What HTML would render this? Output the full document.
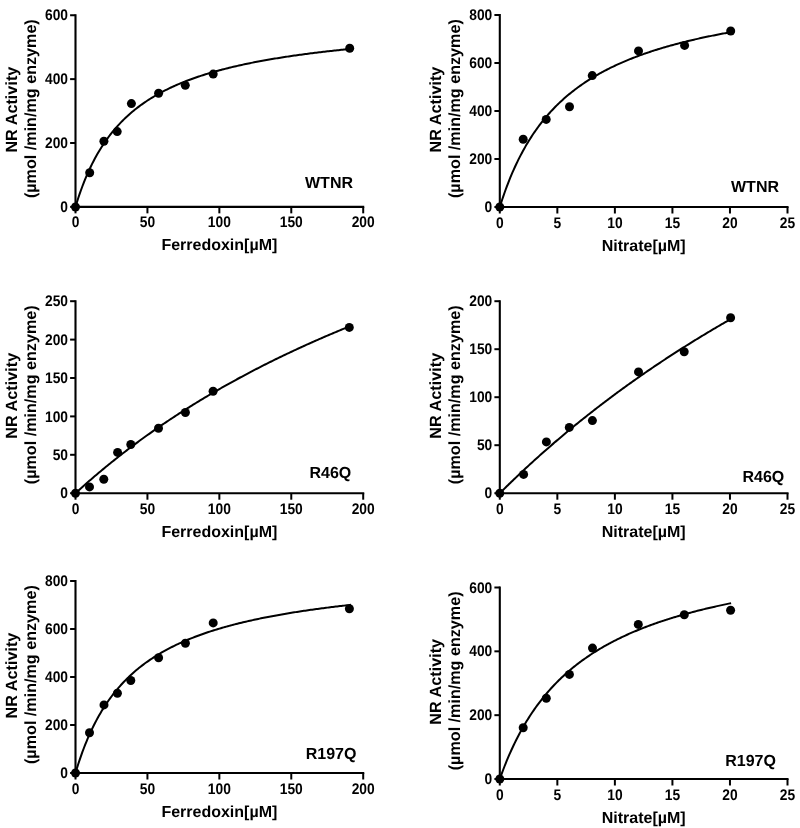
<!DOCTYPE html>
<html><head><meta charset="utf-8"><style>
html,body{margin:0;padding:0;background:#fff;}
svg{display:block;filter:blur(0.35px);}
.ax{fill:none;stroke:#000;stroke-width:2.1;stroke-linecap:square;}
.tick{fill:none;stroke:#000;stroke-width:2;}
.cv{fill:none;stroke:#000;stroke-width:2;stroke-linejoin:round;}
text{font-family:"Liberation Sans", sans-serif;font-weight:bold;fill:#000;text-rendering:geometricPrecision;}
.tk{font-size:13.8px;}
.lb{font-size:16px;}
</style></head><body>
<svg width="800" height="828" viewBox="0 0 800 828">
<path d="M75.50 15.25V206.85H363.20" class="ax"/>
<path d="M70.10 206.85H75.50" class="tick"/>
<text transform="translate(68.00 211.95) scale(1 1.12)" class="tk" text-anchor="end">0</text>
<path d="M70.10 142.98H75.50" class="tick"/>
<text transform="translate(68.00 148.08) scale(1 1.12)" class="tk" text-anchor="end">200</text>
<path d="M70.10 79.12H75.50" class="tick"/>
<text transform="translate(68.00 84.22) scale(1 1.12)" class="tk" text-anchor="end">400</text>
<path d="M70.10 15.25H75.50" class="tick"/>
<text transform="translate(68.00 20.35) scale(1 1.12)" class="tk" text-anchor="end">600</text>
<path d="M75.50 206.85V213.35" class="tick"/>
<text transform="translate(75.50 227.35) scale(1 1.12)" class="tk" text-anchor="middle">0</text>
<path d="M147.43 206.85V213.35" class="tick"/>
<text transform="translate(147.43 227.35) scale(1 1.12)" class="tk" text-anchor="middle">50</text>
<path d="M219.35 206.85V213.35" class="tick"/>
<text transform="translate(219.35 227.35) scale(1 1.12)" class="tk" text-anchor="middle">100</text>
<path d="M291.27 206.85V213.35" class="tick"/>
<text transform="translate(291.27 227.35) scale(1 1.12)" class="tk" text-anchor="middle">150</text>
<path d="M363.20 206.85V213.35" class="tick"/>
<text transform="translate(363.20 227.35) scale(1 1.12)" class="tk" text-anchor="middle">200</text>
<path d="M75.50 206.85 L76.88 202.34 L78.27 198.04 L79.65 193.94 L81.04 190.01 L82.42 186.26 L83.81 182.66 L85.19 179.21 L86.57 175.91 L87.96 172.73 L89.34 169.68 L90.73 166.74 L92.11 163.92 L93.50 161.20 L94.88 158.57 L96.26 156.04 L97.65 153.60 L99.03 151.24 L100.42 148.96 L101.80 146.76 L103.19 144.63 L104.57 142.57 L105.95 140.57 L107.34 138.63 L108.72 136.76 L110.11 134.94 L111.49 133.17 L112.88 131.46 L114.26 129.79 L115.64 128.17 L117.03 126.60 L118.41 125.07 L119.80 123.59 L121.18 122.14 L122.57 120.73 L123.95 119.36 L125.33 118.02 L126.72 116.72 L128.10 115.45 L129.49 114.22 L130.87 113.01 L132.26 111.83 L133.64 110.68 L135.02 109.56 L136.41 108.46 L137.79 107.39 L139.18 106.35 L140.56 105.32 L141.95 104.32 L143.33 103.35 L144.71 102.39 L146.10 101.46 L147.48 100.54 L148.87 99.65 L150.25 98.77 L151.64 97.91 L153.02 97.07 L154.40 96.24 L155.79 95.44 L157.17 94.65 L158.56 93.87 L159.94 93.11 L161.33 92.36 L162.71 91.63 L164.09 90.92 L165.48 90.21 L166.86 89.52 L168.25 88.84 L169.63 88.18 L171.02 87.52 L172.40 86.88 L173.78 86.25 L175.17 85.63 L176.55 85.02 L177.94 84.42 L179.32 83.84 L180.71 83.26 L182.09 82.69 L183.47 82.13 L184.86 81.58 L186.24 81.04 L187.63 80.51 L189.01 79.99 L190.40 79.47 L191.78 78.97 L193.16 78.47 L194.55 77.98 L195.93 77.50 L197.32 77.02 L198.70 76.55 L200.09 76.09 L201.47 75.64 L202.85 75.19 L204.24 74.75 L205.62 74.32 L207.01 73.89 L208.39 73.47 L209.78 73.05 L211.16 72.64 L212.54 72.24 L213.93 71.84 L215.31 71.45 L216.70 71.07 L218.08 70.68 L219.47 70.31 L220.85 69.94 L222.23 69.57 L223.62 69.21 L225.00 68.85 L226.39 68.50 L227.77 68.16 L229.16 67.81 L230.54 67.48 L231.92 67.14 L233.31 66.81 L234.69 66.49 L236.08 66.17 L237.46 65.85 L238.85 65.54 L240.23 65.23 L241.61 64.93 L243.00 64.63 L244.38 64.33 L245.77 64.03 L247.15 63.74 L248.54 63.46 L249.92 63.17 L251.30 62.89 L252.69 62.62 L254.07 62.34 L255.46 62.07 L256.84 61.81 L258.23 61.54 L259.61 61.28 L260.99 61.02 L262.38 60.77 L263.76 60.52 L265.15 60.27 L266.53 60.02 L267.92 59.78 L269.30 59.54 L270.68 59.30 L272.07 59.06 L273.45 58.83 L274.84 58.60 L276.22 58.37 L277.61 58.14 L278.99 57.92 L280.37 57.70 L281.76 57.48 L283.14 57.26 L284.53 57.05 L285.91 56.84 L287.30 56.63 L288.68 56.42 L290.06 56.21 L291.45 56.01 L292.83 55.81 L294.22 55.61 L295.60 55.41 L296.99 55.22 L298.37 55.02 L299.75 54.83 L301.14 54.64 L302.52 54.45 L303.91 54.27 L305.29 54.08 L306.68 53.90 L308.06 53.72 L309.44 53.54 L310.83 53.36 L312.21 53.19 L313.60 53.01 L314.98 52.84 L316.37 52.67 L317.75 52.50 L319.13 52.33 L320.52 52.17 L321.90 52.00 L323.29 51.84 L324.67 51.68 L326.06 51.52 L327.44 51.36 L328.82 51.20 L330.21 51.04 L331.59 50.89 L332.98 50.74 L334.36 50.58 L335.75 50.43 L337.13 50.28 L338.51 50.14 L339.90 49.99 L341.28 49.84 L342.67 49.70 L344.05 49.56 L345.44 49.41 L346.82 49.27 L348.20 49.13 L349.59 49.00 L350.97 48.86" class="cv"/>
<circle cx="75.5" cy="207" r="4.5"/>
<circle cx="89.7" cy="172.8" r="4.5"/>
<circle cx="103.9" cy="141.2" r="4.5"/>
<circle cx="117.2" cy="131.6" r="4.5"/>
<circle cx="131.4" cy="103.6" r="4.5"/>
<circle cx="158.6" cy="93.3" r="4.5"/>
<circle cx="185.3" cy="85.35" r="4.5"/>
<circle cx="213.2" cy="74.1" r="4.5"/>
<circle cx="349.7" cy="48.2" r="4.5"/>
<text x="219.35" y="250.35" class="lb" text-anchor="middle">Ferredoxin[µM]</text>
<text x="305" y="187.5" class="lb">WTNR</text>
<text transform="translate(17.00 109.65) rotate(-90)" class="lb" style="font-size:16.23px" text-anchor="middle">NR Activity</text>
<text transform="translate(35.50 108.65) rotate(-90)" class="lb" style="font-size:16.15px" text-anchor="middle">(µmol /min/mg enzyme)</text>
<path d="M499.80 15.00V207.00H787.50" class="ax"/>
<path d="M494.40 207.00H499.80" class="tick"/>
<text transform="translate(492.30 212.10) scale(1 1.12)" class="tk" text-anchor="end">0</text>
<path d="M494.40 159.00H499.80" class="tick"/>
<text transform="translate(492.30 164.10) scale(1 1.12)" class="tk" text-anchor="end">200</text>
<path d="M494.40 111.00H499.80" class="tick"/>
<text transform="translate(492.30 116.10) scale(1 1.12)" class="tk" text-anchor="end">400</text>
<path d="M494.40 63.00H499.80" class="tick"/>
<text transform="translate(492.30 68.10) scale(1 1.12)" class="tk" text-anchor="end">600</text>
<path d="M494.40 15.00H499.80" class="tick"/>
<text transform="translate(492.30 20.10) scale(1 1.12)" class="tk" text-anchor="end">800</text>
<path d="M499.80 207.00V213.50" class="tick"/>
<text transform="translate(499.80 227.50) scale(1 1.12)" class="tk" text-anchor="middle">0</text>
<path d="M557.34 207.00V213.50" class="tick"/>
<text transform="translate(557.34 227.50) scale(1 1.12)" class="tk" text-anchor="middle">5</text>
<path d="M614.88 207.00V213.50" class="tick"/>
<text transform="translate(614.88 227.50) scale(1 1.12)" class="tk" text-anchor="middle">10</text>
<path d="M672.42 207.00V213.50" class="tick"/>
<text transform="translate(672.42 227.50) scale(1 1.12)" class="tk" text-anchor="middle">15</text>
<path d="M729.96 207.00V213.50" class="tick"/>
<text transform="translate(729.96 227.50) scale(1 1.12)" class="tk" text-anchor="middle">20</text>
<path d="M787.50 207.00V213.50" class="tick"/>
<text transform="translate(787.50 227.50) scale(1 1.12)" class="tk" text-anchor="middle">25</text>
<path d="M499.80 207.00 L500.96 203.33 L502.12 199.78 L503.29 196.34 L504.45 193.00 L505.61 189.76 L506.77 186.62 L507.94 183.57 L509.10 180.61 L510.26 177.73 L511.42 174.94 L512.59 172.22 L513.75 169.58 L514.91 167.00 L516.07 164.50 L517.24 162.06 L518.40 159.68 L519.56 157.36 L520.72 155.11 L521.88 152.91 L523.05 150.76 L524.21 148.66 L525.37 146.62 L526.53 144.62 L527.70 142.67 L528.86 140.77 L530.02 138.91 L531.18 137.09 L532.35 135.31 L533.51 133.57 L534.67 131.87 L535.83 130.21 L537.00 128.58 L538.16 126.98 L539.32 125.42 L540.48 123.90 L541.65 122.40 L542.81 120.93 L543.97 119.50 L545.13 118.09 L546.29 116.71 L547.46 115.35 L548.62 114.03 L549.78 112.73 L550.94 111.45 L552.11 110.20 L553.27 108.97 L554.43 107.76 L555.59 106.57 L556.76 105.41 L557.92 104.27 L559.08 103.15 L560.24 102.04 L561.41 100.96 L562.57 99.90 L563.73 98.85 L564.89 97.82 L566.05 96.81 L567.22 95.82 L568.38 94.84 L569.54 93.88 L570.70 92.93 L571.87 92.00 L573.03 91.09 L574.19 90.19 L575.35 89.30 L576.52 88.43 L577.68 87.57 L578.84 86.72 L580.00 85.89 L581.17 85.07 L582.33 84.26 L583.49 83.47 L584.65 82.68 L585.82 81.91 L586.98 81.15 L588.14 80.40 L589.30 79.66 L590.46 78.94 L591.63 78.22 L592.79 77.51 L593.95 76.81 L595.11 76.12 L596.28 75.45 L597.44 74.78 L598.60 74.12 L599.76 73.47 L600.93 72.82 L602.09 72.19 L603.25 71.56 L604.41 70.95 L605.58 70.34 L606.74 69.74 L607.90 69.14 L609.06 68.56 L610.22 67.98 L611.39 67.41 L612.55 66.85 L613.71 66.29 L614.87 65.74 L616.04 65.20 L617.20 64.66 L618.36 64.13 L619.52 63.61 L620.69 63.09 L621.85 62.58 L623.01 62.08 L624.17 61.58 L625.34 61.09 L626.50 60.60 L627.66 60.12 L628.82 59.64 L629.98 59.17 L631.15 58.71 L632.31 58.25 L633.47 57.80 L634.63 57.35 L635.80 56.90 L636.96 56.46 L638.12 56.03 L639.28 55.60 L640.45 55.18 L641.61 54.76 L642.77 54.34 L643.93 53.93 L645.10 53.52 L646.26 53.12 L647.42 52.72 L648.58 52.33 L649.75 51.94 L650.91 51.56 L652.07 51.17 L653.23 50.80 L654.39 50.42 L655.56 50.05 L656.72 49.69 L657.88 49.32 L659.04 48.97 L660.21 48.61 L661.37 48.26 L662.53 47.91 L663.69 47.57 L664.86 47.23 L666.02 46.89 L667.18 46.55 L668.34 46.22 L669.51 45.89 L670.67 45.57 L671.83 45.25 L672.99 44.93 L674.15 44.61 L675.32 44.30 L676.48 43.99 L677.64 43.68 L678.80 43.38 L679.97 43.08 L681.13 42.78 L682.29 42.48 L683.45 42.19 L684.62 41.90 L685.78 41.61 L686.94 41.32 L688.10 41.04 L689.27 40.76 L690.43 40.48 L691.59 40.21 L692.75 39.94 L693.92 39.67 L695.08 39.40 L696.24 39.13 L697.40 38.87 L698.56 38.61 L699.73 38.35 L700.89 38.09 L702.05 37.84 L703.21 37.58 L704.38 37.33 L705.54 37.09 L706.70 36.84 L707.86 36.60 L709.03 36.35 L710.19 36.11 L711.35 35.88 L712.51 35.64 L713.68 35.41 L714.84 35.17 L716.00 34.94 L717.16 34.71 L718.32 34.49 L719.49 34.26 L720.65 34.04 L721.81 33.82 L722.97 33.60 L724.14 33.38 L725.30 33.16 L726.46 32.95 L727.62 32.74 L728.79 32.53 L729.95 32.32 L731.11 32.11" class="cv"/>
<circle cx="499.8" cy="207" r="4.5"/>
<circle cx="523.2" cy="139.2" r="4.5"/>
<circle cx="546.2" cy="119.4" r="4.5"/>
<circle cx="569.5" cy="106.7" r="4.5"/>
<circle cx="592.25" cy="75.6" r="4.5"/>
<circle cx="638.5" cy="50.9" r="4.5"/>
<circle cx="684.6" cy="45.4" r="4.5"/>
<circle cx="730.7" cy="31" r="4.5"/>
<text x="643.65" y="250.50" class="lb" text-anchor="middle">Nitrate[µM]</text>
<text x="731" y="192.2" class="lb">WTNR</text>
<text transform="translate(441.30 109.60) rotate(-90)" class="lb" style="font-size:16.23px" text-anchor="middle">NR Activity</text>
<text transform="translate(459.80 108.60) rotate(-90)" class="lb" style="font-size:16.15px" text-anchor="middle">(µmol /min/mg enzyme)</text>
<path d="M75.50 301.20V493.20H363.20" class="ax"/>
<path d="M70.10 493.20H75.50" class="tick"/>
<text transform="translate(68.00 498.30) scale(1 1.12)" class="tk" text-anchor="end">0</text>
<path d="M70.10 454.80H75.50" class="tick"/>
<text transform="translate(68.00 459.90) scale(1 1.12)" class="tk" text-anchor="end">50</text>
<path d="M70.10 416.40H75.50" class="tick"/>
<text transform="translate(68.00 421.50) scale(1 1.12)" class="tk" text-anchor="end">100</text>
<path d="M70.10 378.00H75.50" class="tick"/>
<text transform="translate(68.00 383.10) scale(1 1.12)" class="tk" text-anchor="end">150</text>
<path d="M70.10 339.60H75.50" class="tick"/>
<text transform="translate(68.00 344.70) scale(1 1.12)" class="tk" text-anchor="end">200</text>
<path d="M70.10 301.20H75.50" class="tick"/>
<text transform="translate(68.00 306.30) scale(1 1.12)" class="tk" text-anchor="end">250</text>
<path d="M75.50 493.20V499.70" class="tick"/>
<text transform="translate(75.50 513.70) scale(1 1.12)" class="tk" text-anchor="middle">0</text>
<path d="M147.43 493.20V499.70" class="tick"/>
<text transform="translate(147.43 513.70) scale(1 1.12)" class="tk" text-anchor="middle">50</text>
<path d="M219.35 493.20V499.70" class="tick"/>
<text transform="translate(219.35 513.70) scale(1 1.12)" class="tk" text-anchor="middle">100</text>
<path d="M291.27 493.20V499.70" class="tick"/>
<text transform="translate(291.27 513.70) scale(1 1.12)" class="tk" text-anchor="middle">150</text>
<path d="M363.20 493.20V499.70" class="tick"/>
<text transform="translate(363.20 513.70) scale(1 1.12)" class="tk" text-anchor="middle">200</text>
<path d="M75.50 493.20 L76.88 491.94 L78.27 490.68 L79.65 489.43 L81.04 488.19 L82.42 486.95 L83.81 485.72 L85.19 484.50 L86.57 483.28 L87.96 482.06 L89.34 480.86 L90.73 479.66 L92.11 478.46 L93.50 477.27 L94.88 476.09 L96.26 474.91 L97.65 473.74 L99.03 472.57 L100.42 471.41 L101.80 470.26 L103.19 469.11 L104.57 467.97 L105.95 466.83 L107.34 465.70 L108.72 464.57 L110.11 463.45 L111.49 462.33 L112.88 461.22 L114.26 460.11 L115.64 459.01 L117.03 457.92 L118.41 456.83 L119.80 455.74 L121.18 454.66 L122.57 453.58 L123.95 452.51 L125.33 451.45 L126.72 450.39 L128.10 449.33 L129.49 448.28 L130.87 447.24 L132.26 446.20 L133.64 445.16 L135.02 444.13 L136.41 443.10 L137.79 442.08 L139.18 441.06 L140.56 440.05 L141.95 439.04 L143.33 438.04 L144.71 437.04 L146.10 436.04 L147.48 435.05 L148.87 434.07 L150.25 433.09 L151.64 432.11 L153.02 431.14 L154.40 430.17 L155.79 429.21 L157.17 428.25 L158.56 427.29 L159.94 426.34 L161.33 425.39 L162.71 424.45 L164.09 423.51 L165.48 422.58 L166.86 421.64 L168.25 420.72 L169.63 419.79 L171.02 418.88 L172.40 417.96 L173.78 417.05 L175.17 416.14 L176.55 415.24 L177.94 414.34 L179.32 413.45 L180.71 412.55 L182.09 411.67 L183.47 410.78 L184.86 409.90 L186.24 409.03 L187.63 408.15 L189.01 407.28 L190.40 406.42 L191.78 405.56 L193.16 404.70 L194.55 403.84 L195.93 402.99 L197.32 402.14 L198.70 401.30 L200.09 400.46 L201.47 399.62 L202.85 398.79 L204.24 397.96 L205.62 397.13 L207.01 396.31 L208.39 395.49 L209.78 394.67 L211.16 393.86 L212.54 393.04 L213.93 392.24 L215.31 391.43 L216.70 390.63 L218.08 389.84 L219.47 389.04 L220.85 388.25 L222.23 387.46 L223.62 386.68 L225.00 385.90 L226.39 385.12 L227.77 384.34 L229.16 383.57 L230.54 382.80 L231.92 382.04 L233.31 381.27 L234.69 380.51 L236.08 379.76 L237.46 379.00 L238.85 378.25 L240.23 377.50 L241.61 376.76 L243.00 376.01 L244.38 375.27 L245.77 374.54 L247.15 373.80 L248.54 373.07 L249.92 372.34 L251.30 371.62 L252.69 370.89 L254.07 370.17 L255.46 369.46 L256.84 368.74 L258.23 368.03 L259.61 367.32 L260.99 366.62 L262.38 365.91 L263.76 365.21 L265.15 364.51 L266.53 363.82 L267.92 363.12 L269.30 362.43 L270.68 361.74 L272.07 361.06 L273.45 360.38 L274.84 359.70 L276.22 359.02 L277.61 358.34 L278.99 357.67 L280.37 357.00 L281.76 356.33 L283.14 355.67 L284.53 355.00 L285.91 354.34 L287.30 353.68 L288.68 353.03 L290.06 352.37 L291.45 351.72 L292.83 351.07 L294.22 350.43 L295.60 349.78 L296.99 349.14 L298.37 348.50 L299.75 347.87 L301.14 347.23 L302.52 346.60 L303.91 345.97 L305.29 345.34 L306.68 344.71 L308.06 344.09 L309.44 343.47 L310.83 342.85 L312.21 342.23 L313.60 341.62 L314.98 341.01 L316.37 340.40 L317.75 339.79 L319.13 339.18 L320.52 338.58 L321.90 337.98 L323.29 337.38 L324.67 336.78 L326.06 336.18 L327.44 335.59 L328.82 335.00 L330.21 334.41 L331.59 333.82 L332.98 333.23 L334.36 332.65 L335.75 332.07 L337.13 331.49 L338.51 330.91 L339.90 330.34 L341.28 329.76 L342.67 329.19 L344.05 328.62 L345.44 328.06 L346.82 327.49 L348.20 326.93 L349.59 326.36 L350.97 325.80" class="cv"/>
<circle cx="75.5" cy="493.2" r="4.5"/>
<circle cx="89.5" cy="486.9" r="4.5"/>
<circle cx="103.8" cy="479.3" r="4.5"/>
<circle cx="117.6" cy="452.4" r="4.5"/>
<circle cx="130.8" cy="444.5" r="4.5"/>
<circle cx="158.5" cy="428.2" r="4.5"/>
<circle cx="185.4" cy="412.5" r="4.5"/>
<circle cx="213.1" cy="391.25" r="4.5"/>
<circle cx="349.3" cy="327.4" r="4.5"/>
<text x="219.35" y="536.70" class="lb" text-anchor="middle">Ferredoxin[µM]</text>
<text x="309.5" y="477.5" class="lb">R46Q</text>
<text transform="translate(17.00 395.80) rotate(-90)" class="lb" style="font-size:16.23px" text-anchor="middle">NR Activity</text>
<text transform="translate(35.50 394.80) rotate(-90)" class="lb" style="font-size:16.15px" text-anchor="middle">(µmol /min/mg enzyme)</text>
<path d="M499.80 301.20V493.20H787.50" class="ax"/>
<path d="M494.40 493.20H499.80" class="tick"/>
<text transform="translate(492.30 498.30) scale(1 1.12)" class="tk" text-anchor="end">0</text>
<path d="M494.40 445.20H499.80" class="tick"/>
<text transform="translate(492.30 450.30) scale(1 1.12)" class="tk" text-anchor="end">50</text>
<path d="M494.40 397.20H499.80" class="tick"/>
<text transform="translate(492.30 402.30) scale(1 1.12)" class="tk" text-anchor="end">100</text>
<path d="M494.40 349.20H499.80" class="tick"/>
<text transform="translate(492.30 354.30) scale(1 1.12)" class="tk" text-anchor="end">150</text>
<path d="M494.40 301.20H499.80" class="tick"/>
<text transform="translate(492.30 306.30) scale(1 1.12)" class="tk" text-anchor="end">200</text>
<path d="M499.80 493.20V499.70" class="tick"/>
<text transform="translate(499.80 513.70) scale(1 1.12)" class="tk" text-anchor="middle">0</text>
<path d="M557.34 493.20V499.70" class="tick"/>
<text transform="translate(557.34 513.70) scale(1 1.12)" class="tk" text-anchor="middle">5</text>
<path d="M614.88 493.20V499.70" class="tick"/>
<text transform="translate(614.88 513.70) scale(1 1.12)" class="tk" text-anchor="middle">10</text>
<path d="M672.42 493.20V499.70" class="tick"/>
<text transform="translate(672.42 513.70) scale(1 1.12)" class="tk" text-anchor="middle">15</text>
<path d="M729.96 493.20V499.70" class="tick"/>
<text transform="translate(729.96 513.70) scale(1 1.12)" class="tk" text-anchor="middle">20</text>
<path d="M787.50 493.20V499.70" class="tick"/>
<text transform="translate(787.50 513.70) scale(1 1.12)" class="tk" text-anchor="middle">25</text>
<path d="M499.80 493.20 L500.96 492.04 L502.12 490.89 L503.29 489.74 L504.45 488.60 L505.61 487.46 L506.77 486.32 L507.94 485.19 L509.10 484.06 L510.26 482.93 L511.42 481.81 L512.59 480.69 L513.75 479.57 L514.91 478.46 L516.07 477.35 L517.24 476.24 L518.40 475.14 L519.56 474.04 L520.72 472.95 L521.88 471.86 L523.05 470.77 L524.21 469.68 L525.37 468.60 L526.53 467.52 L527.70 466.45 L528.86 465.38 L530.02 464.31 L531.18 463.25 L532.35 462.18 L533.51 461.13 L534.67 460.07 L535.83 459.02 L537.00 457.97 L538.16 456.93 L539.32 455.88 L540.48 454.85 L541.65 453.81 L542.81 452.78 L543.97 451.75 L545.13 450.72 L546.29 449.70 L547.46 448.68 L548.62 447.66 L549.78 446.65 L550.94 445.64 L552.11 444.63 L553.27 443.63 L554.43 442.62 L555.59 441.62 L556.76 440.63 L557.92 439.64 L559.08 438.65 L560.24 437.66 L561.41 436.68 L562.57 435.70 L563.73 434.72 L564.89 433.74 L566.05 432.77 L567.22 431.80 L568.38 430.83 L569.54 429.87 L570.70 428.91 L571.87 427.95 L573.03 427.00 L574.19 426.04 L575.35 425.09 L576.52 424.15 L577.68 423.20 L578.84 422.26 L580.00 421.32 L581.17 420.39 L582.33 419.45 L583.49 418.52 L584.65 417.60 L585.82 416.67 L586.98 415.75 L588.14 414.83 L589.30 413.91 L590.46 413.00 L591.63 412.09 L592.79 411.18 L593.95 410.27 L595.11 409.37 L596.28 408.46 L597.44 407.56 L598.60 406.67 L599.76 405.77 L600.93 404.88 L602.09 403.99 L603.25 403.11 L604.41 402.22 L605.58 401.34 L606.74 400.46 L607.90 399.59 L609.06 398.71 L610.22 397.84 L611.39 396.97 L612.55 396.11 L613.71 395.24 L614.87 394.38 L616.04 393.52 L617.20 392.66 L618.36 391.81 L619.52 390.96 L620.69 390.11 L621.85 389.26 L623.01 388.42 L624.17 387.57 L625.34 386.73 L626.50 385.89 L627.66 385.06 L628.82 384.22 L629.98 383.39 L631.15 382.56 L632.31 381.74 L633.47 380.91 L634.63 380.09 L635.80 379.27 L636.96 378.45 L638.12 377.64 L639.28 376.82 L640.45 376.01 L641.61 375.20 L642.77 374.40 L643.93 373.59 L645.10 372.79 L646.26 371.99 L647.42 371.19 L648.58 370.39 L649.75 369.60 L650.91 368.81 L652.07 368.02 L653.23 367.23 L654.39 366.44 L655.56 365.66 L656.72 364.88 L657.88 364.10 L659.04 363.32 L660.21 362.55 L661.37 361.78 L662.53 361.00 L663.69 360.23 L664.86 359.47 L666.02 358.70 L667.18 357.94 L668.34 357.18 L669.51 356.42 L670.67 355.66 L671.83 354.91 L672.99 354.15 L674.15 353.40 L675.32 352.65 L676.48 351.91 L677.64 351.16 L678.80 350.42 L679.97 349.68 L681.13 348.94 L682.29 348.20 L683.45 347.46 L684.62 346.73 L685.78 346.00 L686.94 345.27 L688.10 344.54 L689.27 343.81 L690.43 343.09 L691.59 342.37 L692.75 341.64 L693.92 340.93 L695.08 340.21 L696.24 339.49 L697.40 338.78 L698.56 338.07 L699.73 337.36 L700.89 336.65 L702.05 335.94 L703.21 335.24 L704.38 334.54 L705.54 333.83 L706.70 333.14 L707.86 332.44 L709.03 331.74 L710.19 331.05 L711.35 330.36 L712.51 329.66 L713.68 328.98 L714.84 328.29 L716.00 327.60 L717.16 326.92 L718.32 326.24 L719.49 325.56 L720.65 324.88 L721.81 324.20 L722.97 323.53 L724.14 322.85 L725.30 322.18 L726.46 321.51 L727.62 320.84 L728.79 320.17 L729.95 319.51 L731.11 318.84" class="cv"/>
<circle cx="499.8" cy="493.2" r="4.5"/>
<circle cx="523.6" cy="474.4" r="4.5"/>
<circle cx="546.4" cy="441.9" r="4.5"/>
<circle cx="569.3" cy="427.4" r="4.5"/>
<circle cx="592.4" cy="420.6" r="4.5"/>
<circle cx="638.5" cy="371.9" r="4.5"/>
<circle cx="684.2" cy="351.7" r="4.5"/>
<circle cx="730.6" cy="317.8" r="4.5"/>
<text x="643.65" y="536.70" class="lb" text-anchor="middle">Nitrate[µM]</text>
<text x="742.5" y="481.5" class="lb">R46Q</text>
<text transform="translate(441.30 395.80) rotate(-90)" class="lb" style="font-size:16.23px" text-anchor="middle">NR Activity</text>
<text transform="translate(459.80 394.80) rotate(-90)" class="lb" style="font-size:16.15px" text-anchor="middle">(µmol /min/mg enzyme)</text>
<path d="M75.50 581.00V773.00H363.20" class="ax"/>
<path d="M70.10 773.00H75.50" class="tick"/>
<text transform="translate(68.00 778.10) scale(1 1.12)" class="tk" text-anchor="end">0</text>
<path d="M70.10 725.00H75.50" class="tick"/>
<text transform="translate(68.00 730.10) scale(1 1.12)" class="tk" text-anchor="end">200</text>
<path d="M70.10 677.00H75.50" class="tick"/>
<text transform="translate(68.00 682.10) scale(1 1.12)" class="tk" text-anchor="end">400</text>
<path d="M70.10 629.00H75.50" class="tick"/>
<text transform="translate(68.00 634.10) scale(1 1.12)" class="tk" text-anchor="end">600</text>
<path d="M70.10 581.00H75.50" class="tick"/>
<text transform="translate(68.00 586.10) scale(1 1.12)" class="tk" text-anchor="end">800</text>
<path d="M75.50 773.00V779.50" class="tick"/>
<text transform="translate(75.50 793.50) scale(1 1.12)" class="tk" text-anchor="middle">0</text>
<path d="M147.43 773.00V779.50" class="tick"/>
<text transform="translate(147.43 793.50) scale(1 1.12)" class="tk" text-anchor="middle">50</text>
<path d="M219.35 773.00V779.50" class="tick"/>
<text transform="translate(219.35 793.50) scale(1 1.12)" class="tk" text-anchor="middle">100</text>
<path d="M291.27 773.00V779.50" class="tick"/>
<text transform="translate(291.27 793.50) scale(1 1.12)" class="tk" text-anchor="middle">150</text>
<path d="M363.20 773.00V779.50" class="tick"/>
<text transform="translate(363.20 793.50) scale(1 1.12)" class="tk" text-anchor="middle">200</text>
<path d="M75.50 773.00 L76.88 768.41 L78.27 764.03 L79.65 759.83 L81.04 755.80 L82.42 751.95 L83.81 748.24 L85.19 744.69 L86.57 741.27 L87.96 737.98 L89.34 734.81 L90.73 731.76 L92.11 728.82 L93.50 725.98 L94.88 723.24 L96.26 720.60 L97.65 718.04 L99.03 715.57 L100.42 713.17 L101.80 710.86 L103.19 708.61 L104.57 706.44 L105.95 704.33 L107.34 702.29 L108.72 700.30 L110.11 698.37 L111.49 696.50 L112.88 694.68 L114.26 692.92 L115.64 691.20 L117.03 689.52 L118.41 687.90 L119.80 686.31 L121.18 684.77 L122.57 683.26 L123.95 681.80 L125.33 680.37 L126.72 678.98 L128.10 677.62 L129.49 676.29 L130.87 675.00 L132.26 673.73 L133.64 672.50 L135.02 671.29 L136.41 670.11 L137.79 668.96 L139.18 667.83 L140.56 666.73 L141.95 665.65 L143.33 664.60 L144.71 663.57 L146.10 662.56 L147.48 661.57 L148.87 660.60 L150.25 659.65 L151.64 658.72 L153.02 657.81 L154.40 656.92 L155.79 656.04 L157.17 655.19 L158.56 654.34 L159.94 653.52 L161.33 652.71 L162.71 651.91 L164.09 651.13 L165.48 650.37 L166.86 649.62 L168.25 648.88 L169.63 648.15 L171.02 647.44 L172.40 646.74 L173.78 646.06 L175.17 645.38 L176.55 644.72 L177.94 644.06 L179.32 643.42 L180.71 642.79 L182.09 642.17 L183.47 641.56 L184.86 640.96 L186.24 640.37 L187.63 639.79 L189.01 639.22 L190.40 638.66 L191.78 638.10 L193.16 637.56 L194.55 637.02 L195.93 636.49 L197.32 635.97 L198.70 635.46 L200.09 634.95 L201.47 634.45 L202.85 633.96 L204.24 633.48 L205.62 633.00 L207.01 632.54 L208.39 632.07 L209.78 631.62 L211.16 631.17 L212.54 630.72 L213.93 630.29 L215.31 629.86 L216.70 629.43 L218.08 629.01 L219.47 628.60 L220.85 628.19 L222.23 627.79 L223.62 627.39 L225.00 627.00 L226.39 626.61 L227.77 626.23 L229.16 625.85 L230.54 625.48 L231.92 625.11 L233.31 624.75 L234.69 624.39 L236.08 624.04 L237.46 623.69 L238.85 623.34 L240.23 623.00 L241.61 622.67 L243.00 622.33 L244.38 622.01 L245.77 621.68 L247.15 621.36 L248.54 621.04 L249.92 620.73 L251.30 620.42 L252.69 620.12 L254.07 619.81 L255.46 619.51 L256.84 619.22 L258.23 618.93 L259.61 618.64 L260.99 618.35 L262.38 618.07 L263.76 617.79 L265.15 617.52 L266.53 617.24 L267.92 616.97 L269.30 616.71 L270.68 616.44 L272.07 616.18 L273.45 615.92 L274.84 615.67 L276.22 615.41 L277.61 615.16 L278.99 614.91 L280.37 614.67 L281.76 614.43 L283.14 614.19 L284.53 613.95 L285.91 613.71 L287.30 613.48 L288.68 613.25 L290.06 613.02 L291.45 612.80 L292.83 612.57 L294.22 612.35 L295.60 612.13 L296.99 611.92 L298.37 611.70 L299.75 611.49 L301.14 611.28 L302.52 611.07 L303.91 610.86 L305.29 610.66 L306.68 610.45 L308.06 610.25 L309.44 610.05 L310.83 609.86 L312.21 609.66 L313.60 609.47 L314.98 609.28 L316.37 609.09 L317.75 608.90 L319.13 608.71 L320.52 608.53 L321.90 608.34 L323.29 608.16 L324.67 607.98 L326.06 607.80 L327.44 607.63 L328.82 607.45 L330.21 607.28 L331.59 607.11 L332.98 606.94 L334.36 606.77 L335.75 606.60 L337.13 606.43 L338.51 606.27 L339.90 606.10 L341.28 605.94 L342.67 605.78 L344.05 605.62 L345.44 605.46 L346.82 605.31 L348.20 605.15 L349.59 605.00 L350.97 604.85" class="cv"/>
<circle cx="75.5" cy="773" r="4.5"/>
<circle cx="89.5" cy="732.8" r="4.5"/>
<circle cx="104" cy="704.9" r="4.5"/>
<circle cx="117.4" cy="693.2" r="4.5"/>
<circle cx="130.8" cy="680.5" r="4.5"/>
<circle cx="158.6" cy="657.8" r="4.5"/>
<circle cx="185.4" cy="643.2" r="4.5"/>
<circle cx="213.2" cy="622.9" r="4.5"/>
<circle cx="349.4" cy="608.8" r="4.5"/>
<text x="219.35" y="816.50" class="lb" text-anchor="middle">Ferredoxin[µM]</text>
<text x="305.7" y="759.2" class="lb">R197Q</text>
<text transform="translate(17.00 675.60) rotate(-90)" class="lb" style="font-size:16.23px" text-anchor="middle">NR Activity</text>
<text transform="translate(35.50 674.60) rotate(-90)" class="lb" style="font-size:16.15px" text-anchor="middle">(µmol /min/mg enzyme)</text>
<path d="M499.80 587.50V779.00H787.50" class="ax"/>
<path d="M494.40 779.00H499.80" class="tick"/>
<text transform="translate(492.30 784.10) scale(1 1.12)" class="tk" text-anchor="end">0</text>
<path d="M494.40 715.17H499.80" class="tick"/>
<text transform="translate(492.30 720.27) scale(1 1.12)" class="tk" text-anchor="end">200</text>
<path d="M494.40 651.33H499.80" class="tick"/>
<text transform="translate(492.30 656.43) scale(1 1.12)" class="tk" text-anchor="end">400</text>
<path d="M494.40 587.50H499.80" class="tick"/>
<text transform="translate(492.30 592.60) scale(1 1.12)" class="tk" text-anchor="end">600</text>
<path d="M499.80 779.00V785.50" class="tick"/>
<text transform="translate(499.80 799.50) scale(1 1.12)" class="tk" text-anchor="middle">0</text>
<path d="M557.34 779.00V785.50" class="tick"/>
<text transform="translate(557.34 799.50) scale(1 1.12)" class="tk" text-anchor="middle">5</text>
<path d="M614.88 779.00V785.50" class="tick"/>
<text transform="translate(614.88 799.50) scale(1 1.12)" class="tk" text-anchor="middle">10</text>
<path d="M672.42 779.00V785.50" class="tick"/>
<text transform="translate(672.42 799.50) scale(1 1.12)" class="tk" text-anchor="middle">15</text>
<path d="M729.96 779.00V785.50" class="tick"/>
<text transform="translate(729.96 799.50) scale(1 1.12)" class="tk" text-anchor="middle">20</text>
<path d="M787.50 779.00V785.50" class="tick"/>
<text transform="translate(787.50 799.50) scale(1 1.12)" class="tk" text-anchor="middle">25</text>
<path d="M499.80 779.00 L500.96 775.75 L502.12 772.58 L503.29 769.50 L504.45 766.50 L505.61 763.57 L506.77 760.72 L507.94 757.94 L509.10 755.23 L510.26 752.58 L511.42 750.00 L512.59 747.48 L513.75 745.02 L514.91 742.62 L516.07 740.27 L517.24 737.98 L518.40 735.74 L519.56 733.55 L520.72 731.40 L521.88 729.30 L523.05 727.25 L524.21 725.24 L525.37 723.28 L526.53 721.35 L527.70 719.47 L528.86 717.62 L530.02 715.81 L531.18 714.04 L532.35 712.30 L533.51 710.60 L534.67 708.93 L535.83 707.29 L537.00 705.68 L538.16 704.10 L539.32 702.56 L540.48 701.04 L541.65 699.55 L542.81 698.08 L543.97 696.65 L545.13 695.23 L546.29 693.85 L547.46 692.49 L548.62 691.15 L549.78 689.83 L550.94 688.54 L552.11 687.27 L553.27 686.02 L554.43 684.79 L555.59 683.58 L556.76 682.39 L557.92 681.23 L559.08 680.08 L560.24 678.94 L561.41 677.83 L562.57 676.73 L563.73 675.65 L564.89 674.59 L566.05 673.55 L567.22 672.52 L568.38 671.50 L569.54 670.50 L570.70 669.52 L571.87 668.55 L573.03 667.59 L574.19 666.65 L575.35 665.73 L576.52 664.81 L577.68 663.91 L578.84 663.02 L580.00 662.15 L581.17 661.28 L582.33 660.43 L583.49 659.59 L584.65 658.76 L585.82 657.95 L586.98 657.14 L588.14 656.34 L589.30 655.56 L590.46 654.79 L591.63 654.02 L592.79 653.27 L593.95 652.52 L595.11 651.79 L596.28 651.06 L597.44 650.35 L598.60 649.64 L599.76 648.94 L600.93 648.25 L602.09 647.57 L603.25 646.90 L604.41 646.24 L605.58 645.58 L606.74 644.93 L607.90 644.29 L609.06 643.66 L610.22 643.04 L611.39 642.42 L612.55 641.81 L613.71 641.21 L614.87 640.61 L616.04 640.02 L617.20 639.44 L618.36 638.86 L619.52 638.29 L620.69 637.73 L621.85 637.18 L623.01 636.63 L624.17 636.08 L625.34 635.54 L626.50 635.01 L627.66 634.48 L628.82 633.96 L629.98 633.45 L631.15 632.94 L632.31 632.44 L633.47 631.94 L634.63 631.44 L635.80 630.96 L636.96 630.47 L638.12 630.00 L639.28 629.52 L640.45 629.05 L641.61 628.59 L642.77 628.13 L643.93 627.68 L645.10 627.23 L646.26 626.78 L647.42 626.34 L648.58 625.91 L649.75 625.48 L650.91 625.05 L652.07 624.63 L653.23 624.21 L654.39 623.79 L655.56 623.38 L656.72 622.97 L657.88 622.57 L659.04 622.17 L660.21 621.78 L661.37 621.38 L662.53 621.00 L663.69 620.61 L664.86 620.23 L666.02 619.85 L667.18 619.48 L668.34 619.11 L669.51 618.74 L670.67 618.38 L671.83 618.02 L672.99 617.66 L674.15 617.31 L675.32 616.96 L676.48 616.61 L677.64 616.26 L678.80 615.92 L679.97 615.58 L681.13 615.25 L682.29 614.92 L683.45 614.59 L684.62 614.26 L685.78 613.94 L686.94 613.61 L688.10 613.30 L689.27 612.98 L690.43 612.67 L691.59 612.36 L692.75 612.05 L693.92 611.74 L695.08 611.44 L696.24 611.14 L697.40 610.84 L698.56 610.55 L699.73 610.25 L700.89 609.96 L702.05 609.67 L703.21 609.39 L704.38 609.10 L705.54 608.82 L706.70 608.54 L707.86 608.27 L709.03 607.99 L710.19 607.72 L711.35 607.45 L712.51 607.18 L713.68 606.91 L714.84 606.65 L716.00 606.39 L717.16 606.13 L718.32 605.87 L719.49 605.61 L720.65 605.36 L721.81 605.11 L722.97 604.86 L724.14 604.61 L725.30 604.36 L726.46 604.12 L727.62 603.87 L728.79 603.63 L729.95 603.39 L731.11 603.15" class="cv"/>
<circle cx="499.8" cy="779" r="4.5"/>
<circle cx="523.2" cy="727.8" r="4.5"/>
<circle cx="546.3" cy="698.3" r="4.5"/>
<circle cx="569.4" cy="674.4" r="4.5"/>
<circle cx="592.5" cy="648.1" r="4.5"/>
<circle cx="638.3" cy="624.4" r="4.5"/>
<circle cx="684.3" cy="614.8" r="4.5"/>
<circle cx="730.6" cy="610.3" r="4.5"/>
<text x="643.65" y="822.50" class="lb" text-anchor="middle">Nitrate[µM]</text>
<text x="725.2" y="765.5" class="lb">R197Q</text>
<text transform="translate(441.30 681.85) rotate(-90)" class="lb" style="font-size:16.23px" text-anchor="middle">NR Activity</text>
<text transform="translate(459.80 680.85) rotate(-90)" class="lb" style="font-size:16.15px" text-anchor="middle">(µmol /min/mg enzyme)</text>
</svg>
</body></html>
